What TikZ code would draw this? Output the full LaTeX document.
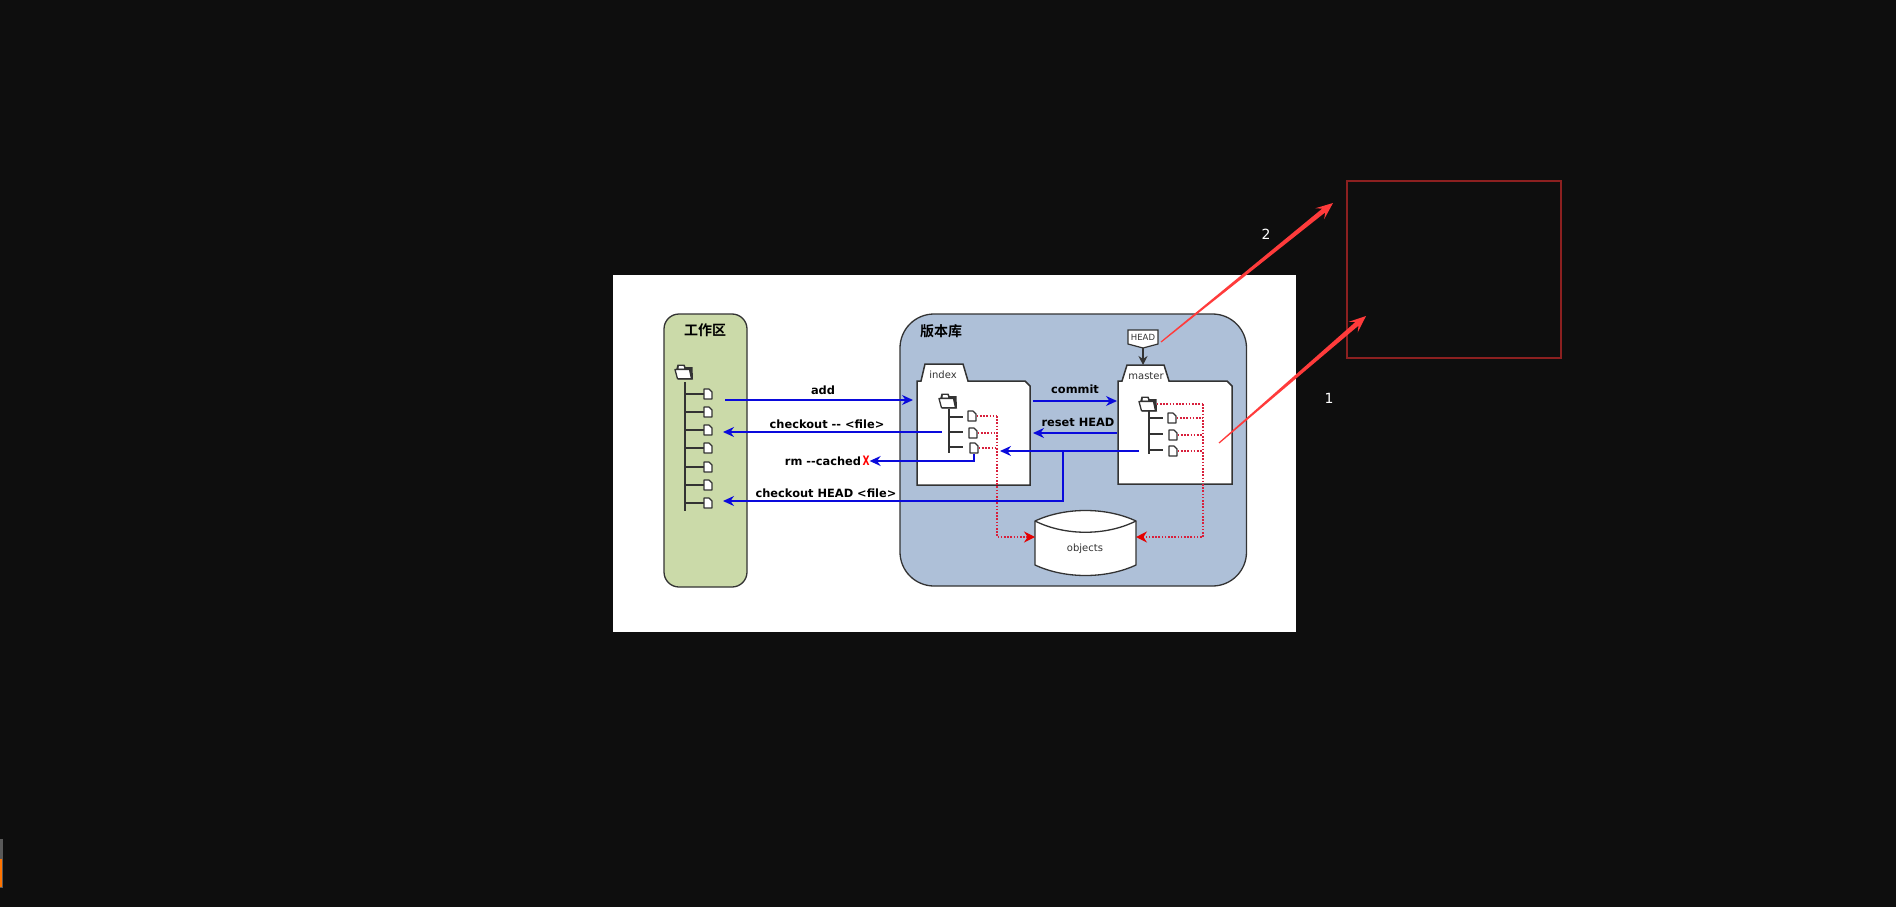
\documentclass[tikz,border=0pt]{standalone}
\usepackage{fontspec}
\setmainfont{DejaVu Sans}
\newfontfamily\cjkbold[BoldFont={Noto Sans CJK SC Bold}]{Noto Sans CJK SC}
\usetikzlibrary{arrows.meta,calc}
\definecolor{bgdark}{HTML}{0E0E0E}
\definecolor{ink}{HTML}{333333}
\definecolor{greenbox}{HTML}{CBDAA9}
\definecolor{bluebox}{HTML}{AEC0D8}
\definecolor{linkblue}{HTML}{0A0ADC}
\definecolor{dotred}{HTML}{D8203C}
\definecolor{markred}{HTML}{FF3B3B}
\definecolor{framered}{HTML}{8C2020}
\tikzset{
  panelbox/.style={draw=ink,line width=1.3pt},
  folderbody/.style={draw=ink,fill=white,line width=1.5pt,line join=miter},
  trunk/.style={draw=ink,line width=1.3pt},
  docnode/.style={minimum width=9pt,minimum height=11pt,inner sep=0pt},
  foldernode/.style={minimum width=17pt,minimum height=14pt,inner sep=0pt},
  link/.style={draw=linkblue,line width=1.4pt,-{Stealth[length=11pt,width=10pt]}},
  objlink/.style={draw=dotred,line width=1.4pt,dash pattern=on 1.6pt off 1.6pt},
  objarrow/.style={objlink,-{Stealth[length=11pt,width=11pt,color=red!90!black,sep=0pt]}},
  cmdlabel/.style={font=\fontsize{11.4}{13}\selectfont\bfseries,text=black,inner sep=0pt},
  boxlabel/.style={font=\fontsize{10}{12}\selectfont,text=ink,inner sep=0pt},
  titlelabel/.style={font=\fontsize{14}{16}\selectfont\cjkbold\bfseries,text=black,inner sep=0pt},
  noteno/.style={font=\fontsize{14}{16}\selectfont,text=white,inner sep=0pt},
}
\newcommand{\foldericon}[2]{%
  \node[foldernode] (#1) at (#2) {};
  \begin{scope}[shift={(#1.center)}]
    \fill[ink] (-8,-2) -- (-6.5,-7.5) -- (0.5,-7.5) -- (1.5,-5) -- (8.5,-5) -- (9,7.5) -- (-6,7.5) -- cycle;
    \fill[white] (-5.5,-3.5) -- (-5,-6) -- (-0.5,-6) -- (0,-3.5) -- cycle;
    \draw[ink,fill=white,line width=1.3pt,line join=round] (-9,-2.5) -- (5.5,-2.5) -- (7.5,6.8) -- (-6.5,6.8) -- cycle;
  \end{scope}}
\newcommand{\docicon}[2]{%
  \node[docnode] (#1) at (#2) {};
  \draw[shift={(#1.center)},ink,fill=white,line width=1.2pt,line join=round]
    (-4,-5) -- (1,-5) -- (4,-2) -- (4,5) -- (-4,5) -- cycle;}
\newcommand{\tapered}[2]{%
  \coordinate (neck) at ($(#2)!12pt!(#1)$);
  \coordinate (barb) at ($(#2)!17pt!(#1)$);
  \fill[markred] ($(#1)!0.6pt!90:(#2)$) -- ($(neck)!2.4pt!90:(#2)$) -- ($(barb)!7pt!90:(#2)$) -- (#2)
    -- ($(barb)!7pt!-90:(#2)$) -- ($(neck)!2.4pt!-90:(#2)$) -- ($(#1)!0.6pt!-90:(#2)$) -- cycle;}
\begin{document}
\begin{tikzpicture}[x=1pt,y=-1pt]
\useasboundingbox (0,0) rectangle (1896,907);
\fill[bgdark] (0,0) rectangle (1896,907);
% taskbar sliver
\fill[gray!70!black] (0,839) rectangle (3,888);
\fill[orange!90!red] (0,859) rectangle (1.5,887);
% white panel
\fill[white] (613,275) rectangle (1296,632);
% frames
\draw[panelbox,fill=greenbox,rounded corners=15pt] (664,314) rectangle (747,587);
\draw[panelbox,fill=bluebox,rounded corners=34pt] (900,314) rectangle (1246.5,586);
\node[titlelabel] (worktitle) at (705,330) {工作区};
\node[titlelabel] (repotitle) at (941,331) {版本库};
% working tree
\foldericon{wfolder}{684,372}
\draw[trunk] (685,382) -- (685,511);
\foreach \n/\yy in {1/394,2/412,3/430,4/448,5/467,6/485,7/503}{
  \draw[trunk] (685,\yy) -- (704,\yy);
  \docicon{w\n}{708,\yy}
}
% index folder
\draw[folderbody] (917,485) -- (917,381) -- (921,381) -- (925,364) -- (963,364) -- (968,381)
  -- (1025,381) -- (1030,386) -- (1030,485) -- cycle;
\node[boxlabel] (indexlabel) at (943,375) {index};
\foldericon{ifolder}{948,401}
\draw[trunk] (949,409) -- (949,453);
\docicon{i1}{972,416}
\docicon{i2}{973,433}
\docicon{i3}{974,448}
\foreach \n/\yy in {1/417,2/432,3/447}{\draw[trunk] (949,\yy) -- (963,\yy);}
% master folder
\draw[folderbody] (1118,484) -- (1118,381) -- (1122,381) -- (1127,365) -- (1164,365) -- (1169,381)
  -- (1227,381) -- (1232,386) -- (1232,484) -- cycle;
\node[boxlabel] (masterlabel) at (1146,376) {master};
\foldericon{mfolder}{1148,404}
\draw[trunk] (1149,411) -- (1149,454);
\docicon{m1}{1172,418}
\docicon{m2}{1173,435}
\docicon{m3}{1173,451}
\foreach \n/\yy in {1/418,2/434,3/450}{\draw[trunk] (1149,\yy) -- (1163,\yy);}
% objects cylinder
\draw[folderbody,line width=1.3pt] (1035,521) .. controls (1065,507) and (1106,507) .. (1136,521)
  -- (1136,565) .. controls (1106,579) and (1065,579) .. (1035,565) -- cycle;
\draw[ink,line width=1.3pt] (1035,521) .. controls (1065,536) and (1106,536) .. (1136,521);
\node[boxlabel] (objects) at (1085,549) {objects};
\coordinate (objL) at (1035,537);
\coordinate (objR) at (1136,537);
% red dotted links
\coordinate (ibus) at (997,416);
\coordinate (mbus) at (1203,404);
\draw[objlink] (i1.east) -- (ibus);
\draw[objlink] (i2.east) -- (ibus|-i2.east);
\draw[objlink] (i3.east) -- (ibus|-i3.east);
\draw[objarrow] (ibus) |- (objL);
\draw[objlink] (mfolder.east) -- (mbus);
\draw[objlink] (m1.east) -- (mbus|-m1.east);
\draw[objlink] (m2.east) -- (mbus|-m2.east);
\draw[objlink] (m3.east) -- (mbus|-m3.east);
\draw[objarrow] (mbus) |- (objR);
% HEAD
\draw[folderbody,line width=1.2pt] (1128,330) -- (1158,330) -- (1158,344) -- (1143,348) -- (1128,344) -- cycle;
\node[boxlabel,font=\fontsize{8.5}{10}\selectfont] (head) at (1143,337) {HEAD};
\coordinate (headtip) at (1143,348);
\coordinate (mastertab) at (1143,365);
\draw[draw=ink,line width=1.4pt,-{Stealth[length=9pt,width=9pt]}] (headtip) -- (mastertab);
% blue links
\coordinate (addS) at (725,400);
\coordinate (addT) at (913,400);
\draw[link] (addS) -- (addT);
\node[cmdlabel] (addl) at (823,390) {add};
\coordinate (coS) at (942,432);
\coordinate (coT) at (723,432);
\draw[link] (coS) -- (coT);
\node[cmdlabel] (col) at (827,424) {checkout -{}- <file>};
\node[cmdlabel] (rml) at (823,461) {rm -{}-cached};
\node[inner sep=0pt,font=\fontsize{13}{14}\selectfont\bfseries,text=red,xscale=0.7] (xm) at (866,461) {X};
\draw[link] (i3.south) |- (xm.east);
\coordinate (chS) at (1063,451);
\coordinate (chC) at (1063,501);
\coordinate (chT) at (723,501);
\draw[link] (chS) -- (chC) -- (chT);
\node[cmdlabel] (chl) at (826,493) {checkout HEAD <file>};
\coordinate (cmS) at (1033,401);
\coordinate (cmT) at (1117,401);
\draw[link] (cmS) -- (cmT);
\node[cmdlabel] (cml) at (1075,389) {commit};
\coordinate (rsS) at (1117,433);
\coordinate (rsT) at (1033,433);
\draw[link] (rsS) -- (rsT);
\node[cmdlabel] (rsl) at (1078,422) {reset HEAD};
\coordinate (rtS) at (1139,451);
\coordinate (rtT) at (1000,451);
\draw[link] (rtS) -- (rtT);
% annotation
\draw[draw=framered,line width=1.4pt] (1347,181) rectangle (1561,358);
\coordinate (n2s) at (1161,342);
\coordinate (n2t) at (1333,203);
\coordinate (n1s) at (1219,443);
\coordinate (n1t) at (1366,316);
\tapered{n2s}{n2t}
\tapered{n1s}{n1t}
\node[noteno] (two) at (1266,234) {2};
\node[noteno] (one) at (1329,398) {1};
\end{tikzpicture}
\end{document}
